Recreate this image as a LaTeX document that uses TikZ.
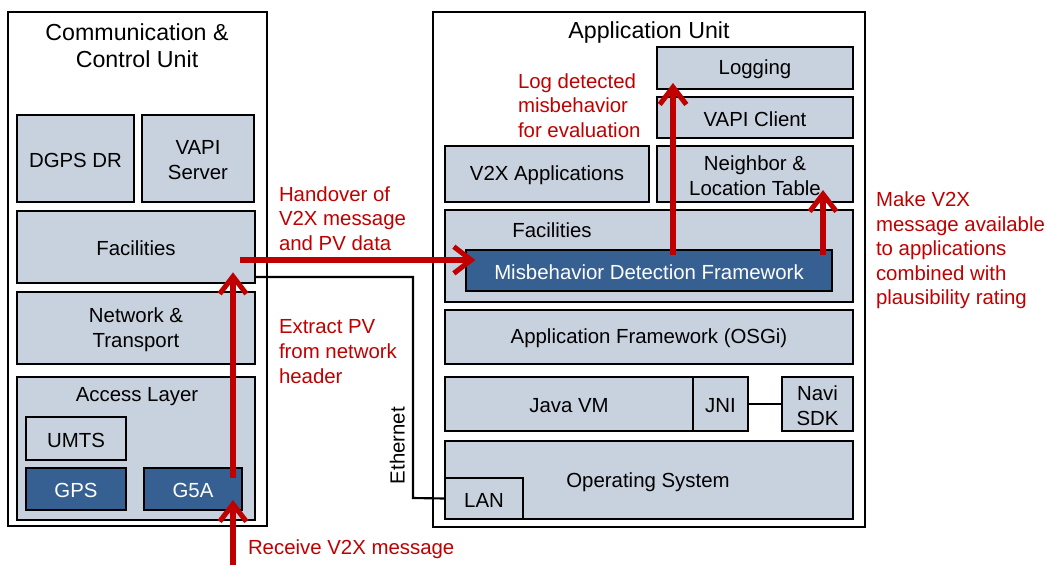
\documentclass[tikz,border=0pt]{standalone}
\usepackage{fontspec}
\setmainfont{Liberation Sans}
\usetikzlibrary{arrows.meta,fit,calc}
\definecolor{boxfill}{RGB}{200,209,222}
\definecolor{darkbox}{RGB}{55,96,146}
\definecolor{redc}{RGB}{192,0,0}
\begin{document}
\begin{tikzpicture}[x=0.75pt,y=-0.75pt,
 every node/.style={inner sep=0pt, outer sep=0pt},
 txt/.style={font=\fontsize{15.3}{18.4}\selectfont, align=center, yshift=-1.2pt},
 wtxt/.style={txt, text=white},
 ttl/.style={font=\fontsize{17.4}{20.3}\selectfont, align=center},
 unit/.style={draw, line width=2.2pt, fill=white},
 box/.style={draw, line width=1.7pt, fill=boxfill},
 dbox/.style={draw, line width=1.7pt, fill=darkbox},
 lbl/.style={txt, text=redc, align=left, anchor=west},
 redarrow/.style={draw=redc, line width=3.8pt, -{Straight Barb[length=13pt,width=20pt]}},
 wire/.style={draw, line width=1.6pt}]
\useasboundingbox (0,0) rectangle (1048,565);
% Communication & Control Unit
\node[unit, fit={(8,12)(267,526)}] (ccu) {};
\node[ttl] (ccutitle) at (137,46) {Communication \&\\Control Unit};
\node[box, fit={(17,115)(134,202)}] (dgps) {};
\node[txt] (dgpst) at (dgps.center) {DGPS DR};
\node[box, fit={(142,115)(254,202)}] (vapis) {};
\node[txt] (vapist) at (vapis.center) {VAPI\\Server};
\node[box, fit={(17,211)(255,283)}] (ccufac) {};
\node[txt] (ccufact) at (ccufac.center) {Facilities};
\node[box, fit={(17,292)(255,364)}] (net) {};
\node[txt] (nett) at (net.center) {Network \&\\Transport};
\node[box, fit={(17,377)(255,520)}] (access) {};
\node[txt] (accesslbl) at (137,395) {Access Layer};
\node[box, fit={(26,417)(126,460)}] (umts) {};
\node[txt] (umtst) at (umts.center) {UMTS};
\node[dbox, fit={(26,468)(126,510)}] (gps) {};
\node[wtxt] (gpst) at (gps.center) {GPS};
\node[dbox, fit={(144,468)(242,510)}] (g5a) {};
\node[wtxt] (g5at) at (g5a.center) {G5A};
% Application Unit
\node[unit, fit={(433,12)(865,527)}] (au) {};
\node[ttl] (autitle) at (649,32) {Application Unit};
\node[box, fit={(657,47)(853,89)}] (logging) {};
\node[txt] (loggingt) at (logging.center) {Logging};
\node[box, fit={(657,97)(853,138)}] (vapic) {};
\node[txt] (vapict) at (vapic.center) {VAPI Client};
\node[box, fit={(445,146)(649,202)}] (v2xapps) {};
\node[txt] (v2xappst) at (v2xapps.center) {V2X Applications};
\node[box, fit={(657,146)(853,202)}] (nlt) {};
\node[txt] (nltt) at (nlt.center) {Neighbor \&\\Location Table};
\node[box, fit={(445,210)(853,302)}] (aufac) {};
\node[txt] (aufaclbl) at (552,229) {Facilities};
\node[dbox, fit={(466,250)(832,291)}] (mdf) {};
\node[wtxt] (mdft) at (mdf.center) {Misbehavior Detection Framework};
\node[box, fit={(445,310)(853,364)}] (osgi) {};
\node[txt] (osgit) at (osgi.center) {Application Framework (OSGi)};
\node[box, fit={(445,377)(693,431)}] (jvm) {};
\node[txt] (jvmt) at (jvm.center) {Java VM};
\node[box, fit={(693,377)(748,431)}] (jni) {};
\node[txt] (jnit) at (jni.center) {JNI};
\node[box, fit={(782,377)(853,431)}] (navi) {};
\node[txt] (navit) at (navi.center) {Navi\\SDK};
\node[box, fit={(445,441)(853,519)}] (os) {};
\node[txt] (ost) at (648,481) {Operating System};
\node[box, fit={(445,478)(523,519)}] (lan) {};
\node[txt] (lant) at (lan.center) {LAN};
% wires
\draw[wire] (jni.east) -- (navi.west);
\coordinate (ethbend) at (413,498);
\draw[wire] ([yshift=4.5pt]ccufac.south east) -| (ethbend) -- (lan.west);
\node[txt, rotate=90, yshift=1.2pt] (ethlbl) at (399,444) {Ethernet};
% red labels
\node[lbl] (loglbl) at (518,104) {Log detected\\misbehavior\\for evaluation};
\node[lbl] (handlbl) at (279,217) {Handover of\\V2X message\\and PV data};
\node[lbl] (extlbl) at (279,350) {Extract PV\\from network\\header};
\node[lbl] (rcvlbl) at (248,548) {Receive V2X message};
\node[lbl] (makelbl) at (876,249) {Make V2X\\message available\\to applications\\combined with\\plausibility rating};
% red arrows
\coordinate (rcvstart) at (233,565);
\draw[redarrow, shorten >=-7.5pt] (rcvstart) -- (rcvstart |- g5a.south);
\draw[redarrow, shorten <=-7.5pt, shorten >=-8pt] (rcvstart |- g5a.north) -- (rcvstart |- ccufac.south);
\coordinate (hy) at (0,260);
\draw[redarrow, shorten <=-11pt, shorten >=-7pt] (ccufac.east |- hy) -- (mdf.west |- hy);
\coordinate (lx) at (673,0);
\draw[redarrow, shorten <=-3.75pt, shorten >=-4.5pt] (lx |- mdf.north) -- (lx |- logging.south);
\coordinate (nx) at (823,0);
\draw[redarrow, shorten <=-3.75pt, shorten >=-9pt] (nx |- mdf.north) -- (nx |- nlt.south);
\end{tikzpicture}
\end{document}
